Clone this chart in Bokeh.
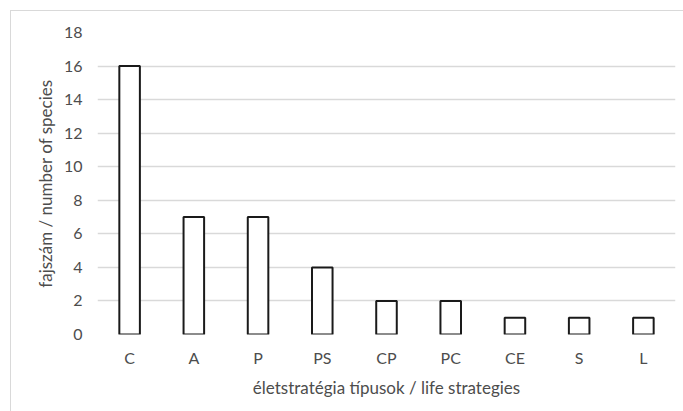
from bokeh.plotting import figure
from bokeh.models import ColumnDataSource, Range1d, FixedTicker
from bokeh.embed import file_html
from bokeh.resources import INLINE

categories = ["C", "A", "P", "PS", "CP", "PC", "CE", "S", "L"]
counts = [16, 7, 7, 4, 2, 2, 1, 1, 1]
y_ticks = [0, 2, 4, 6, 8, 10, 12, 14, 16, 18]

FONT = "Lato"
TXT = "#4d4d4d"
GRID = "#d9d9d9"

src = ColumnDataSource(data=dict(cat=categories, n=counts))

p = figure(x_range=categories, width=673, height=401, output_backend="svg",
           toolbar_location=None, tools="")
p.y_range = Range1d(0, 18)
p.margin = (10, 0, 0, 10)
p.styles = {"border-left": f"1px solid {GRID}", "border-top": f"1px solid {GRID}",
            "box-sizing": "border-box"}
p.min_border_left = 86
p.min_border_right = 9
p.min_border_top = 21
p.min_border_bottom = 78
p.outline_line_color = None
p.background_fill_color = "white"
p.border_fill_color = "white"

p.vbar(x="cat", top="n", bottom=0, width=0.32, source=src,
       fill_color="white", line_color="#1a1a1a", line_width=2)

p.xgrid.grid_line_color = None
p.ygrid.grid_line_color = GRID
p.ygrid.grid_line_width = 1.5
p.yaxis.ticker = FixedTicker(ticks=y_ticks)

for ax in (p.xaxis[0], p.yaxis[0]):
    ax.axis_line_color = None
    ax.major_tick_line_color = None
    ax.minor_tick_line_color = None
    ax.major_tick_out = 0
    ax.major_tick_in = 0
    ax.major_label_text_font = FONT
    ax.major_label_text_font_size = "16px"
    ax.major_label_text_color = TXT
    ax.axis_label_text_font = FONT
    ax.axis_label_text_font_size = "17px"
    ax.axis_label_text_color = TXT
    ax.axis_label_text_font_style = "normal"

p.yaxis.axis_label = "fajszám / number of species"
p.xaxis.axis_label = "életstratégia típusok / life strategies"
p.yaxis.major_label_standoff = 15
p.xaxis.major_label_standoff = 13
p.yaxis.axis_label_standoff = 5
p.xaxis.axis_label_standoff = 7

open("out.html", "w").write(file_html(p, INLINE))
